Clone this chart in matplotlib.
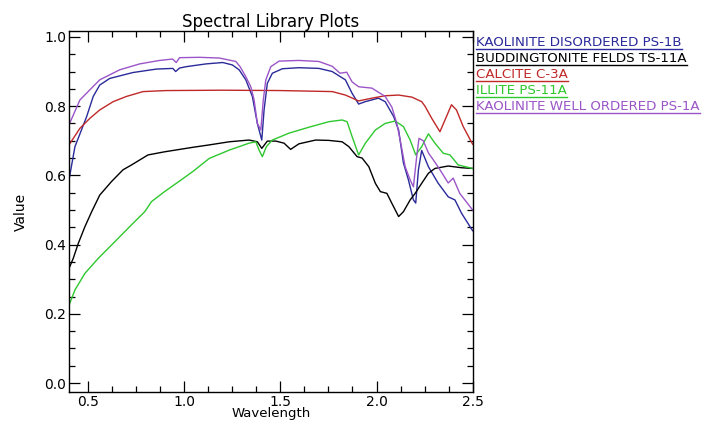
import matplotlib
matplotlib.use("Agg")
import matplotlib.pyplot as plt
from matplotlib.ticker import MultipleLocator
from matplotlib.lines import Line2D

# spectra (wavelength in microns, reflectance value)
kaol_dis_wl = [0.40, 0.431, 0.457, 0.492, 0.526, 0.56, 0.612, 0.732, 0.854, 0.94, 0.955, 0.975,
               1.01, 1.113, 1.20, 1.25, 1.285, 1.32, 1.354, 1.38, 1.403, 1.415, 1.432, 1.458,
               1.51, 1.596, 1.70, 1.769, 1.838, 1.873, 1.907, 1.942, 2.01, 2.045, 2.089, 2.115,
               2.14, 2.166, 2.192, 2.204, 2.218, 2.235, 2.27, 2.32, 2.373, 2.408, 2.443, 2.5]
kaol_dis_val = [0.587, 0.683, 0.72, 0.77, 0.828, 0.861, 0.88, 0.897, 0.907, 0.909, 0.90, 0.91,
                0.914, 0.922, 0.926, 0.919, 0.905, 0.876, 0.828, 0.75, 0.702, 0.789, 0.866, 0.895,
                0.908, 0.911, 0.909, 0.90, 0.876, 0.837, 0.806, 0.813, 0.823, 0.813, 0.77, 0.731,
                0.636, 0.587, 0.529, 0.52, 0.616, 0.672, 0.625, 0.578, 0.538, 0.529, 0.49, 0.44]

budd_wl = [0.40, 0.422, 0.448, 0.483, 0.518, 0.56, 0.621, 0.681, 0.725, 0.811, 0.897, 1.044,
           1.13, 1.234, 1.337, 1.38, 1.403, 1.432, 1.476, 1.519, 1.553, 1.596, 1.683, 1.752,
           1.821, 1.856, 1.899, 1.925, 1.96, 1.994, 2.02, 2.054, 2.08, 2.115, 2.14, 2.175,
           2.201, 2.235, 2.27, 2.304, 2.373, 2.443, 2.5]
budd_val = [0.331, 0.36, 0.403, 0.452, 0.495, 0.543, 0.582, 0.616, 0.63, 0.659, 0.668, 0.681,
            0.688, 0.697, 0.702, 0.697, 0.678, 0.699, 0.699, 0.693, 0.675, 0.691, 0.702, 0.701,
            0.697, 0.683, 0.654, 0.65, 0.625, 0.577, 0.553, 0.548, 0.519, 0.481, 0.495, 0.529,
            0.548, 0.577, 0.606, 0.62, 0.627, 0.622, 0.62]

calcite_wl = [0.40, 0.457, 0.509, 0.56, 0.63, 0.699, 0.785, 0.906, 1.2, 1.5, 1.77, 1.838,
              1.907, 1.976, 2.045, 2.115, 2.184, 2.235, 2.252, 2.287, 2.33, 2.364, 2.39, 2.416,
              2.451, 2.5]
calcite_val = [0.688, 0.736, 0.765, 0.789, 0.813, 0.828, 0.842, 0.845, 0.846, 0.845, 0.842, 0.832,
               0.815, 0.823, 0.83, 0.832, 0.826, 0.813, 0.80, 0.765, 0.726, 0.77, 0.804, 0.789,
               0.741, 0.69]

illite_wl = [0.40, 0.431, 0.483, 0.552, 0.638, 0.725, 0.794, 0.829, 0.897, 0.984, 1.044, 1.13,
             1.234, 1.337, 1.372, 1.389, 1.406, 1.427, 1.458, 1.545, 1.648, 1.752, 1.821, 1.847,
             1.873, 1.907, 1.942, 1.994, 2.045, 2.097, 2.14, 2.175, 2.204, 2.235, 2.27, 2.304,
             2.347, 2.382, 2.425, 2.5]
illite_val = [0.225, 0.269, 0.317, 0.36, 0.408, 0.457, 0.495, 0.524, 0.553, 0.587, 0.611, 0.649,
              0.673, 0.693, 0.697, 0.673, 0.654, 0.683, 0.702, 0.722, 0.739, 0.755, 0.76, 0.755,
              0.712, 0.659, 0.693, 0.731, 0.75, 0.757, 0.741, 0.702, 0.659, 0.683, 0.72, 0.693,
              0.664, 0.659, 0.63, 0.62]

kaol_wo_wl = [0.40, 0.457, 0.56, 0.664, 0.768, 0.871, 0.939, 0.958, 0.975, 1.078, 1.182, 1.234,
              1.268, 1.29, 1.32, 1.346, 1.363, 1.38, 1.398, 1.411, 1.424, 1.45, 1.493, 1.596,
              1.70, 1.77, 1.81, 1.845, 1.873, 1.907, 1.976, 2.045, 2.08, 2.105, 2.123, 2.149,
              2.175, 2.192, 2.209, 2.221, 2.243, 2.27, 2.32, 2.373, 2.399, 2.433, 2.5]
kaol_wo_val = [0.746, 0.818, 0.876, 0.905, 0.922, 0.932, 0.936, 0.926, 0.940, 0.941, 0.939, 0.933,
               0.929, 0.914, 0.885, 0.856, 0.818, 0.75, 0.731, 0.818, 0.876, 0.914, 0.93, 0.932,
               0.929, 0.915, 0.895, 0.898, 0.87, 0.856, 0.852, 0.828, 0.797, 0.751, 0.702, 0.625,
               0.587, 0.567, 0.654, 0.707, 0.70, 0.665, 0.625, 0.578, 0.592, 0.548, 0.50]

labels = ["KAOLINITE DISORDERED PS-1B", "BUDDINGTONITE FELDS TS-11A", "CALCITE C-3A",
          "ILLITE PS-11A", "KAOLINITE WELL ORDERED PS-1A"]
colors = ["#2a2a9a", "#000000", "#c02828", "#2ec82e", "#9b55c8"]

series = [(kaol_dis_wl, kaol_dis_val), (budd_wl, budd_val), (calcite_wl, calcite_val),
          (illite_wl, illite_val), (kaol_wo_wl, kaol_wo_val)]

fig = plt.figure(figsize=(7.15, 4.22), dpi=100)
ax = fig.add_axes([0.0965, 0.071, 0.5645, 0.8555])

for (wl, val), c in zip(series, colors):
    ax.plot(wl, val, color=c, lw=1.0)

ax.set_xlim(0.4, 2.5)
ax.set_ylim(-0.026, 1.017)
ax.xaxis.set_major_locator(MultipleLocator(0.5))
ax.xaxis.set_minor_locator(MultipleLocator(0.125))
ax.yaxis.set_major_locator(MultipleLocator(0.2))
ax.yaxis.set_minor_locator(MultipleLocator(0.05))
ax.tick_params(which="both", direction="in", top=True, right=True, width=0.9, labelsize=10)
ax.tick_params(which="major", length=8, pad=2)
ax.tick_params(which="minor", length=4)
ax.xaxis.set_major_formatter(plt.FuncFormatter(lambda v, p: f"{v:.1f}"))
ax.yaxis.set_major_formatter(plt.FuncFormatter(lambda v, p: f"{v:.1f}"))
for s in ax.spines.values():
    s.set_linewidth(1.0)

ax.set_title("Spectral Library Plots", fontsize=12, pad=3)
ax.set_xlabel("Wavelength", fontsize=9.5, labelpad=-1)
ax.set_ylabel("Value", fontsize=10, labelpad=12)

# underlined legend to the right of the plot
legend_y = [42, 58, 74, 90, 106]
texts = []
for lab, c, ypx in zip(labels, colors, legend_y):
    t = fig.text(476 / 715, 1 - ypx / 422, lab, color=c, fontsize=9.6, va="center", ha="left")
    texts.append(t)

fig.canvas.draw()
renderer = fig.canvas.get_renderer()
inv = fig.transFigure.inverted()
for t, c in zip(texts, colors):
    bb = t.get_window_extent(renderer)
    (x0, y0), (x1, y1) = inv.transform([[bb.x0, bb.y0 - 0.5], [bb.x1, bb.y0 - 0.5]])
    fig.add_artist(Line2D([x0, x1], [y0, y1], color=c, lw=1.0, transform=fig.transFigure))

fig.savefig("out.png", dpi=100)
